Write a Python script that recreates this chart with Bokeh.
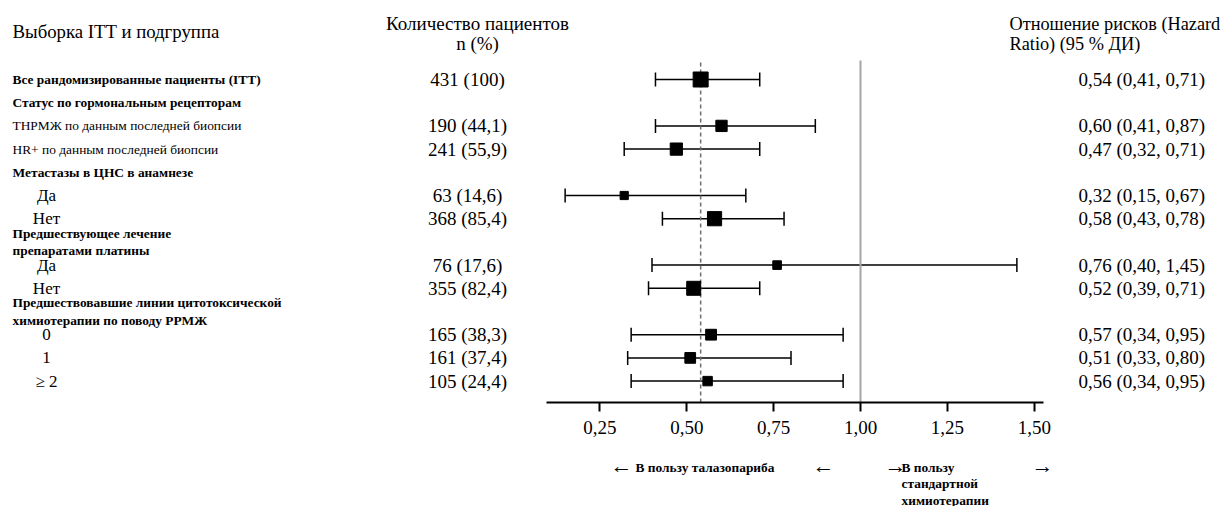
import math
from bokeh.plotting import figure
from bokeh.models import Range1d, ColumnDataSource, Whisker, TeeHead, FixedTicker
from bokeh.layouts import column
from bokeh.embed import file_html
from bokeh.resources import INLINE
from bokeh.core.properties import value

# ---------------- data ----------------
title_left = "Выборка ITT и подгруппа"
title_n = ["Количество пациентов", "n (%)"]
title_hr = ["Отношение рисков (Hazard", "Ratio) (95 % ДИ)"]

row_labels = [
    "Все рандомизированные пациенты (ITT)",
    "Статус по гормональным рецепторам",
    "ТНРМЖ по данным последней биопсии",
    "HR+ по данным последней биопсии",
    "Метастазы в ЦНС в анамнезе",
    "Да",
    "Нет",
    "Предшествующее лечение\nпрепаратами платины",
    "Да",
    "Нет",
    "Предшествовавшие линии цитотоксической\nхимиотерапии по поводу РРМЖ",
    "0",
    "1",
    "≥ 2",
]
row_kind = ["bold", "bold", "plain", "plain", "bold", "sub", "sub",
            "bold", "sub", "sub", "bold", "sub", "sub", "sub"]
n_patients = [431, None, 190, 241, None, 63, 368, None, 76, 355, None, 165, 161, 105]
n_percent = ["100", None, "44,1", "55,9", None, "14,6", "85,4", None,
             "17,6", "82,4", None, "38,3", "37,4", "24,4"]
hazard_ratio = [0.54, None, 0.60, 0.47, None, 0.32, 0.58, None, 0.76, 0.52, None, 0.57, 0.51, 0.56]
ci_lower = [0.41, None, 0.41, 0.32, None, 0.15, 0.43, None, 0.40, 0.39, None, 0.34, 0.33, 0.34]
ci_upper = [0.71, None, 0.87, 0.71, None, 0.67, 0.78, None, 1.45, 0.71, None, 0.95, 0.80, 0.95]
tick_values = [0.25, 0.50, 0.75, 1.00, 1.25, 1.50]
reference_hr = 1.0
favours_left = "В пользу талазопариба"
favours_right = "В пользу\nстандартной\nхимиотерапии"

# ---------------- layout / style ----------------
SERIF = "Liberation Serif"
W = 1227
H_TOP = 446
H_BOT = 60
X_ZERO = 512.5      # image pixel of HR = 0
PX_PER_UNIT = 347.5
ROW0_Y = 79
ROW_H = 23.2
AXIS_Y = 402
LINE_TOP = 60
BIG = "19px"


def fmt(v):
    return f"{v:.2f}".replace(".", ",")


idx = [i for i, h in enumerate(hazard_ratio) if h is not None]
src = ColumnDataSource(dict(
    y=idx,
    hr=[hazard_ratio[i] for i in idx],
    lo=[ci_lower[i] for i in idx],
    hi=[ci_upper[i] for i in idx],
    size=[4 + 0.53 * math.sqrt(n_patients[i]) for i in idx],
    ntext=[f"{n_patients[i]} ({n_percent[i]})" for i in idx],
    hrtext=[f"{fmt(hazard_ratio[i])} ({fmt(ci_lower[i])}, {fmt(ci_upper[i])})" for i in idx],
))

p = figure(
    width=W, height=H_TOP,
    x_range=Range1d(-X_ZERO / PX_PER_UNIT, (W - X_ZERO) / PX_PER_UNIT),
    y_range=Range1d((AXIS_Y - ROW0_Y) / ROW_H, -ROW0_Y / ROW_H),
    output_backend="svg", toolbar_location=None, y_axis_type=None,
    min_border_left=0, min_border_right=0, min_border_top=0, min_border_bottom=H_TOP - AXIS_Y,
)
p.extra_x_ranges = {"px": Range1d(0, W)}
p.extra_y_ranges = {"py": Range1d(AXIS_Y, 0)}
p.grid.visible = False
p.outline_line_color = None
p.background_fill_color = "white"
p.border_fill_color = "white"

# axis
ax = p.xaxis[0]
ax.ticker = FixedTicker(ticks=tick_values, minor_ticks=[])
ax.bounds = (0.095, 1.527)
ax.major_label_overrides = {t: fmt(t) for t in tick_values}
ax.axis_line_width = 2
ax.axis_line_color = "black"
ax.major_tick_line_width = 2
ax.major_tick_line_color = "black"
ax.major_tick_in = 0
ax.major_tick_out = 9
ax.minor_tick_out = 0
ax.minor_tick_in = 0
ax.major_label_standoff = 9
ax.major_label_text_font = SERIF
ax.major_label_text_font_size = BIG
ax.major_label_text_color = "black"

# reference lines
p.segment(x0=[reference_hr], x1=[reference_hr], y0=[AXIS_Y], y1=[LINE_TOP], y_range_name="py",
          line_color="#a6a6a6", line_width=2)
p.segment(x0=[hazard_ratio[0]], x1=[hazard_ratio[0]], y0=[AXIS_Y], y1=[LINE_TOP + 2], y_range_name="py",
          line_color="#6e6e6e", line_width=1.5, line_dash="4 3")

# confidence intervals
p.add_layout(Whisker(
    source=src, base="y", lower="lo", upper="hi", dimension="width",
    line_color="black", line_width=1.5,
    lower_head=TeeHead(size=14, line_color="black", line_width=1.5),
    upper_head=TeeHead(size=14, line_color="black", line_width=1.5),
))
p.scatter(x="hr", y="y", size="size", marker="square", source=src,
          fill_color="black", line_color="black")

# column headers
p.text(x=[12], y=[31], text=[title_left], x_range_name="px", y_range_name="py",
       text_font=value(SERIF), text_font_size="18.8px", text_baseline="middle", text_align="left")
p.text(x=[477, 477], y=[23, 43], text=title_n, x_range_name="px", y_range_name="py",
       text_font=value(SERIF), text_font_size=BIG, text_baseline="middle", text_align="center")
p.text(x=[1009, 1009], y=[23, 43], text=title_hr, x_range_name="px", y_range_name="py",
       text_font=value(SERIF), text_font_size="18.3px", text_baseline="middle", text_align="left")

# left labels
for kind, xpos, align, size, style in [
    ("bold", 12, "left", "13.4px", "bold"),
    ("plain", 12, "left", "13.4px", "normal"),
    ("sub", 46, "center", "17px", "normal"),
]:
    ys = [i for i, k in enumerate(row_kind) if k == kind]
    p.text(x=[xpos] * len(ys), y=ys, text=[row_labels[i] for i in ys], x_range_name="px",
           text_font=value(SERIF), text_font_size=size, text_font_style=style,
           text_baseline="middle", text_align=align, text_line_height=1.15)

# n (%) and HR columns
p.text(x=467, y="y", text="ntext", source=src, x_range_name="px",
       text_font=value(SERIF), text_font_size=BIG, text_baseline="middle", text_align="center")
p.text(x=1078, y="y", text="hrtext", source=src, x_range_name="px",
       text_font=value(SERIF), text_font_size=BIG, text_baseline="middle", text_align="left")

# bottom favour texts
p2 = figure(
    width=W, height=H_BOT,
    x_range=Range1d(0, W),
    y_range=Range1d(H_TOP + H_BOT, H_TOP),
    output_backend="svg", toolbar_location=None, x_axis_type=None, y_axis_type=None,
    min_border=0,
)
p2.grid.visible = False
p2.outline_line_color = None
p2.text(x=[610, 812, 884, 1031], y=[465, 465, 465, 465], text=["←", "←", "→", "→"],
        text_font=value(SERIF), text_font_size="22px", text_baseline="middle", text_align="left")
p2.text(x=[635], y=[467], text=[favours_left], text_font=value(SERIF), text_font_style="bold",
        text_font_size="13.4px", text_baseline="middle", text_align="left")
p2.text(x=[901], y=[459], text=[favours_right], text_font=value(SERIF), text_font_style="bold",
        text_font_size="13.4px", text_baseline="top", text_align="left", text_line_height=1.1)

layout = column(p, p2, spacing=0)
open("out.html", "w").write(file_html(layout, INLINE))
